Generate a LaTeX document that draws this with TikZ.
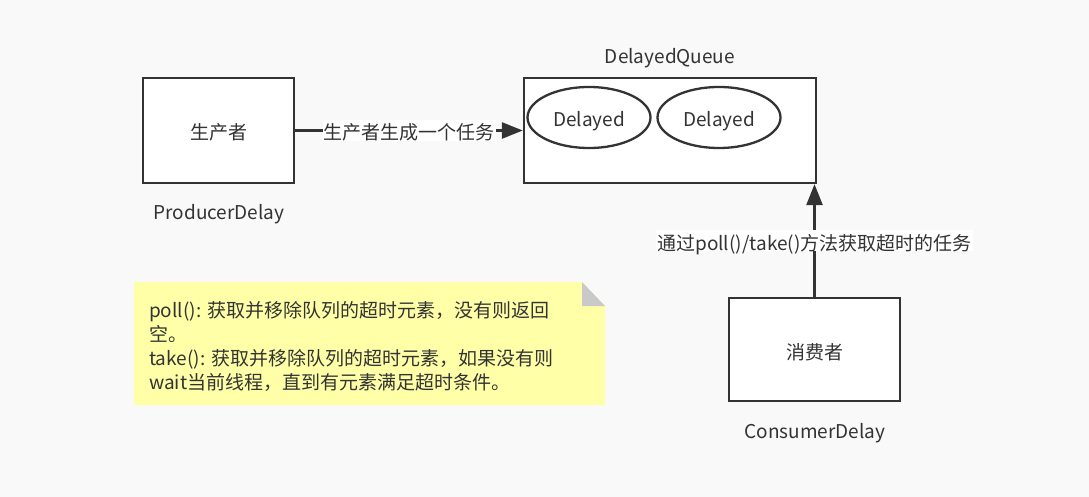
\documentclass[tikz,border=0pt]{standalone}
\usepackage{fontspec}
\setmainfont{Noto Sans CJK SC}
\usetikzlibrary{positioning,shapes.geometric,arrows.meta}
\definecolor{ink}{HTML}{333333}
\definecolor{paper}{HTML}{F9F9F9}
\definecolor{notefill}{HTML}{FFFFA8}
\definecolor{foldgray}{HTML}{C9C9C9}

\begin{document}
\begin{tikzpicture}[x=1pt, y=-1pt,
        font=\fontsize{19}{24}\selectfont, text=ink,
        word/.style={text height=19pt, text depth=0pt},
        box/.style={word, draw=ink, line width=2.3pt, fill=white, inner sep=0pt},
        task/.style={word, ellipse, draw=ink, line width=2.3pt, fill=white,
            minimum width=123pt, minimum height=61pt, inner sep=0pt},
        flow/.style={draw=ink, line width=2.6pt, -{Triangle[length=21pt,width=16pt]}},
        flowlabel/.style={word, fill=white, inner sep=1pt}]
    % Background and frame.
    \fill [paper] (0,0) rectangle (1089,497);
    \useasboundingbox (0,0) rectangle (1089,497);

    % The note.
    \coordinate (NW) at (134,282);
    \coordinate (F) at (582,282);
    \coordinate (FR) at (605,306);
    \coordinate (SE) at (605,405);
    \fill [notefill] (NW) -- (F) -- (FR) -- (SE) -- (134,405) -- cycle;
    \fill [foldgray] (F) -- (F |- FR) -- (FR) -- cycle;
    \node [anchor=north west, align=left, inner sep=0pt] (notetext) at (149,301.5)
        {poll(): 获取并移除队列的超时元素，没有则返回\\空。\\take(): 获取并移除队列的超时元素，如果没有则\\wait当前线程，直到有元素满足超时条件。};

    % Boxes.
    \node [box, minimum width=151pt, minimum height=105pt] (producer) at (218.5,130.5) {生产者};
    \node [box, minimum width=292pt, minimum height=105pt] (queue) at (670,130.5) {};
    \node [box, minimum width=171pt, minimum height=103pt] (consumer) at (814.5,349.5) {消费者};
    \node [task] (delayedA) at (589,117.5) {Delayed};
    \node [task] (delayedB) at (719,117.5) {Delayed};

    % Label the boxes.
    \node [word] (producername) at (219,210) {ProducerDelay};
    \node [word] (queuename) at (670,54) {DelayedQueue};
    \node [word] (consumername) at (815,429) {ConsumerDelay};

    % Arrows.
    \draw [flow] (producer.east) -- node [flowlabel] (put) {生产者生成一个任务} (queue.west);
    \draw [flow] (consumer.north) -- node [flowlabel] (get) {通过poll()/take()方法获取超时的任务} (consumer.north |- queue.south);
\end{tikzpicture}
\end{document}
